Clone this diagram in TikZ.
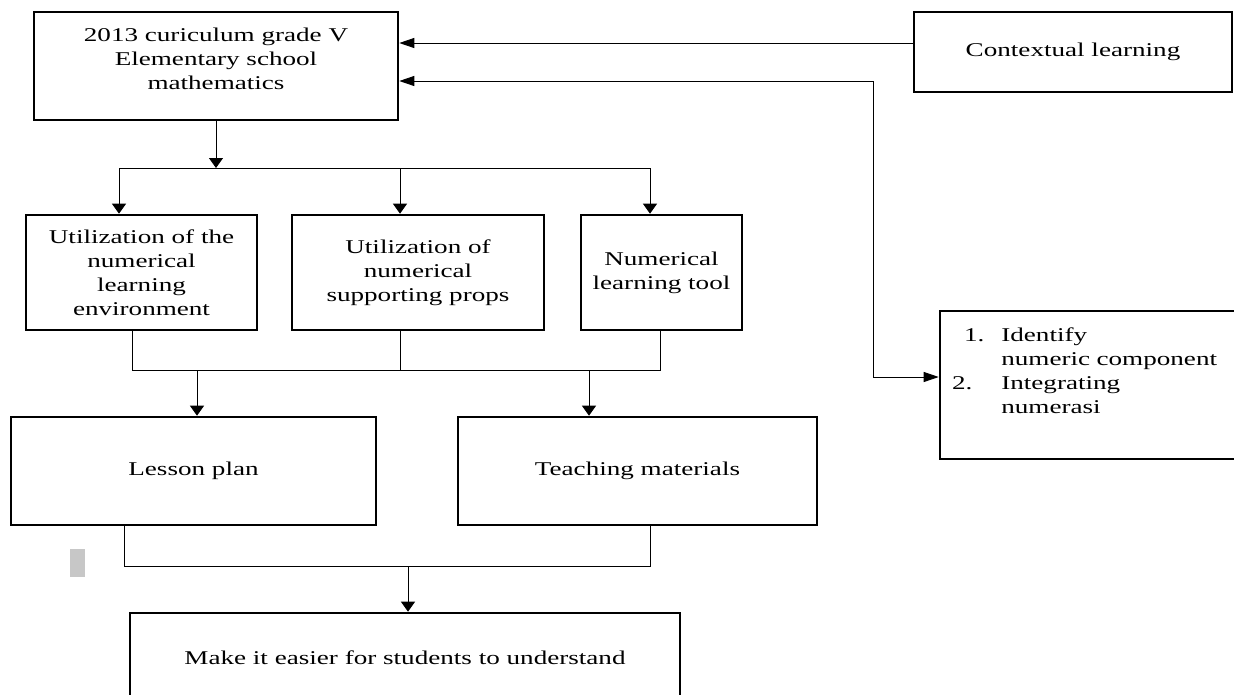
\documentclass[tikz,border=0pt]{standalone}
\usepackage{fontspec}
\setmainfont{Liberation Serif}[FakeStretch=1.39]
\usetikzlibrary{arrows.meta,positioning,calc}

\begin{document}
\begin{tikzpicture}[x=1pt, y=-1pt,
    box/.style={rectangle, draw, line width=2.6pt, align=center, inner sep=0pt,
        font=\fontsize{19.5}{24}\selectfont},
    line/.style={line width=0.9pt},
    arr/.style={line, -{Triangle[length=10pt,width=14pt]}},
    harr/.style={line, -{Triangle[length=15pt,width=10pt]}},
    dharr/.style={line, {Triangle[length=15pt,width=10pt]}-{Triangle[length=15pt,width=10pt]}}
]
    \useasboundingbox (0,0) rectangle (1234,694);
    \clip (0,0) rectangle (1234,694);

    % boxes
    \node[box, minimum width=364pt, minimum height=108pt] (curr) at (216,66)
        {\begin{tabular}{@{}c@{}}2013 curiculum grade V\\Elementary school\\mathematics\\[10pt]\end{tabular}};
    \node[box, minimum width=318pt, minimum height=80pt] (ctx) at (1073,52) {Contextual learning};
    \node[box, minimum width=231pt, minimum height=115pt] (u1) at (141.5,272.5)
        {Utilization of the\\numerical\\learning\\environment};
    \node[box, minimum width=252pt, minimum height=115pt] (u2) at (418,272.5)
        {Utilization of\\numerical\\supporting props};
    \node[box, minimum width=161pt, minimum height=115pt] (u3) at (661.5,272.5)
        {Numerical\\learning tool};
    \node[box, align=left, text width=276pt, inner xsep=12pt, minimum height=148pt] (idf) at (1090,385)
        {\begin{tabular}{@{}l@{\hspace{17pt}}l@{}}
            \hspace{12pt}1. & Identify\\
             & numeric component\\
            2. & Integrating\\
             & numerasi\\[24pt]
        \end{tabular}};
    \node[box, minimum width=365pt, minimum height=108pt] (lesson) at (193.5,471) {Lesson plan};
    \node[box, minimum width=359pt, minimum height=108pt] (teach) at (637.5,471) {Teaching materials};
    \node[box, minimum width=550pt, minimum height=90pt] (easy) at (405,658)
        {Make it easier for students to understand};

    \fill[black!22] (70,549) rectangle (85,577);

    % side inputs
    \draw[harr] ([yshift=9]ctx.west) -- ([yshift=9]ctx.west -| curr.east);
    \coordinate (bend) at (873,377);
    \draw[dharr] ([yshift=-15]curr.east) -| (bend) -- ([yshift=8]idf.west);

    % curriculum to the three components
    \coordinate (topbus) at (0,168);
    \draw[arr] (curr.south) -- (curr.south |- topbus);
    \draw[line] ([xshift=-22.5]u1.north |- topbus) -- ([xshift=-11.5]u3.north |- topbus);
    \draw[arr] ([xshift=-22.5]u1.north |- topbus) -- ([xshift=-22.5]u1.north);
    \draw[arr] ([xshift=-18]u2.north |- topbus) -- ([xshift=-18]u2.north);
    \draw[arr] ([xshift=-11.5]u3.north |- topbus) -- ([xshift=-11.5]u3.north);

    % components to lesson plan and materials
    \coordinate (midbus) at (0,370);
    \draw[line] ([xshift=-9.5]u1.south) -- ([xshift=-9.5]u1.south |- midbus)
        -- ([xshift=-1]u3.south |- midbus) -- ([xshift=-1]u3.south);
    \draw[line] ([xshift=-18]u2.south) -- ([xshift=-18]u2.south |- midbus);
    \draw[arr] ([xshift=3.5]lesson.north |- midbus) -- ([xshift=3.5]lesson.north);
    \draw[arr] ([xshift=-48.5]teach.north |- midbus) -- ([xshift=-48.5]teach.north);

    % lesson plan and materials to outcome
    \coordinate (lowbus) at (0,566);
    \draw[line] ([xshift=-69.5]lesson.south) -- ([xshift=-69.5]lesson.south |- lowbus)
        -- ([xshift=12.5]teach.south |- lowbus) -- ([xshift=12.5]teach.south);
    \draw[arr] ([xshift=3]easy.north |- lowbus) -- ([xshift=3]easy.north);
\end{tikzpicture}
\end{document}
